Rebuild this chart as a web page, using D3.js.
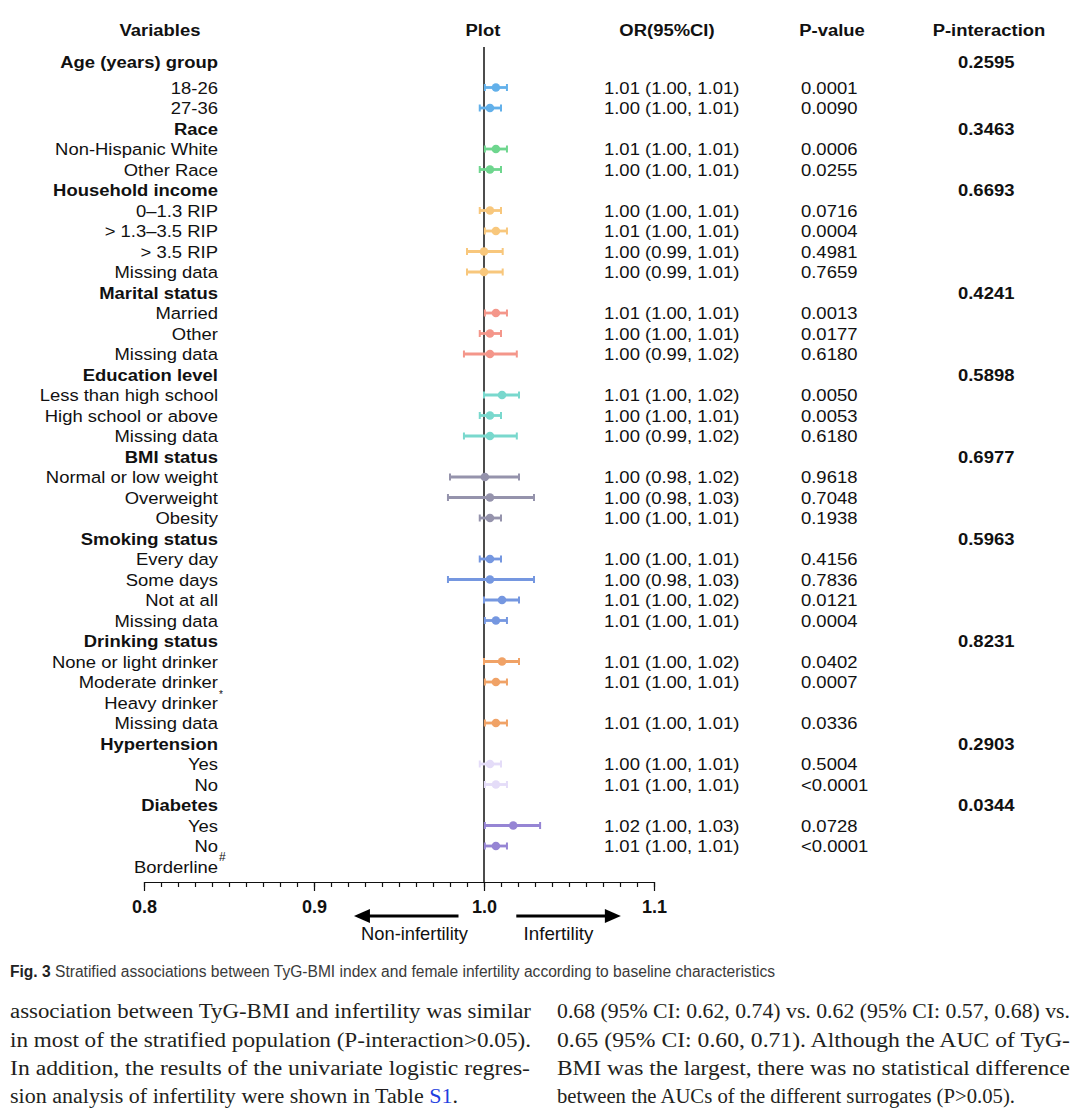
<!DOCTYPE html>
<html>
<head>
<meta charset="utf-8">
<script src="https://cdn.jsdelivr.net/npm/d3@7"></script>
<style>
  html, body { margin: 0; padding: 0; background: #ffffff; }
  svg { display: block; }
</style>
</head>
<body>
<svg id="chart" width="1080" height="1113"></svg>
<script>
// ---------------- DATA ----------------
const groupNames = ["Age (years) group", "Race", "Household income", "Marital status", "Education level",
  "BMI status", "Smoking status", "Drinking status", "Hypertension", "Diabetes"];
const pInteraction = ["0.2595", "0.3463", "0.6693", "0.4241", "0.5898", "0.6977", "0.5963", "0.8231", "0.2903", "0.0344"];

const subgroupLabels = ["18-26", "27-36", "Non-Hispanic White", "Other Race",
  "0\u20131.3 RIP", "> 1.3\u20133.5 RIP", "> 3.5 RIP", "Missing data",
  "Married", "Other", "Missing data",
  "Less than high school", "High school or above", "Missing data",
  "Normal or low weight", "Overweight", "Obesity",
  "Every day", "Some days", "Not at all", "Missing data",
  "None or light drinker", "Moderate drinker", "Heavy drinker", "Missing data",
  "Yes", "No", "Yes", "No", "Borderline"];
const subgroupGroup = [0, 0, 1, 1, 2, 2, 2, 2, 3, 3, 3, 4, 4, 4, 5, 5, 5, 6, 6, 6, 6, 7, 7, 7, 7, 8, 8, 9, 9, 9];
const subgroupNote = ["", "", "", "", "", "", "", "", "", "", "", "", "", "", "", "", "", "", "", "", "", "", "", "*", "", "", "", "", "", "#"];

const orEstimate = [1.007, 1.0035, 1.007, 1.0035, 1.0035, 1.007, 1.000, 1.000, 1.007, 1.0035, 1.0035,
  1.0106, 1.0035, 1.0035, 1.0005, 1.0035, 1.0035, 1.0035, 1.0035, 1.0106, 1.007,
  1.0106, 1.007, null, 1.007, 1.0035, 1.007, 1.0172, 1.007, null];
const ciLower = [1.0005, 0.9975, 1.0005, 0.9975, 0.9975, 1.0005, 0.990, 0.990, 1.0005, 0.9975, 0.9882,
  1.000, 0.9975, 0.9882, 0.980, 0.9788, 0.9975, 0.9975, 0.9788, 1.000, 1.0005,
  1.000, 1.0005, null, 1.0005, 0.9975, 1.0005, 1.0005, 1.0005, null];
const ciUpper = [1.0135, 1.010, 1.0135, 1.010, 1.010, 1.0135, 1.011, 1.011, 1.0135, 1.010, 1.0193,
  1.0206, 1.010, 1.0193, 1.0206, 1.0294, 1.010, 1.010, 1.0294, 1.0206, 1.0135,
  1.0206, 1.0135, null, 1.0135, 1.010, 1.0135, 1.033, 1.0135, null];

const orText = ["1.01 (1.00, 1.01)", "1.00 (1.00, 1.01)", "1.01 (1.00, 1.01)", "1.00 (1.00, 1.01)",
  "1.00 (1.00, 1.01)", "1.01 (1.00, 1.01)", "1.00 (0.99, 1.01)", "1.00 (0.99, 1.01)",
  "1.01 (1.00, 1.01)", "1.00 (1.00, 1.01)", "1.00 (0.99, 1.02)",
  "1.01 (1.00, 1.02)", "1.00 (1.00, 1.01)", "1.00 (0.99, 1.02)",
  "1.00 (0.98, 1.02)", "1.00 (0.98, 1.03)", "1.00 (1.00, 1.01)",
  "1.00 (1.00, 1.01)", "1.00 (0.98, 1.03)", "1.01 (1.00, 1.02)", "1.01 (1.00, 1.01)",
  "1.01 (1.00, 1.02)", "1.01 (1.00, 1.01)", "", "1.01 (1.00, 1.01)",
  "1.00 (1.00, 1.01)", "1.01 (1.00, 1.01)", "1.02 (1.00, 1.03)", "1.01 (1.00, 1.01)", ""];
const pValues = ["0.0001", "0.0090", "0.0006", "0.0255", "0.0716", "0.0004", "0.4981", "0.7659",
  "0.0013", "0.0177", "0.6180", "0.0050", "0.0053", "0.6180", "0.9618", "0.7048", "0.1938",
  "0.4156", "0.7836", "0.0121", "0.0004", "0.0402", "0.0007", "", "0.0336",
  "0.5004", "<0.0001", "0.0728", "<0.0001", ""];

const axisMajorTicks = [0.8, 0.9, 1.0, 1.1];
const headers = ["Variables", "Plot", "OR(95%CI)", "P-value", "P-interaction"];
const directionLabels = ["Non-infertility", "Infertility"];
const captionBold = "Fig. 3";
const captionText = " Stratified associations between TyG-BMI index and female infertility according to baseline characteristics";
const bodyLeft = ["association between TyG-BMI and infertility was similar",
  "in most of the stratified population (P-interaction>0.05).",
  "In addition, the results of the univariate logistic regres-",
  "sion analysis of infertility were shown in Table "];
const bodyRight = ["0.68 (95% CI: 0.62, 0.74) vs. 0.62 (95% CI: 0.57, 0.68) vs.",
  "0.65 (95% CI: 0.60, 0.71). Although the AUC of TyG-",
  "BMI was the largest, there was no statistical difference",
  "between the AUCs of the different surrogates (P>0.05)."];

// ---------------- STYLE ----------------
const groupColors = ["#62b0ea", "#6ed68e", "#f8c77c", "#f4968a", "#79d8cd", "#9593ac", "#7597e0", "#f0a266", "#e4dcf8", "#9685d4"];
const FONT = "'Liberation Sans', Arial, sans-serif";
const STRETCH = 1.06;
const FS = 17.4;

// ---------------- BUILD ROWS ----------------
const rows = [];
groupNames.forEach((g, gi) => {
  rows.push({ type: "header", label: g, pint: pInteraction[gi], group: gi });
  subgroupLabels.forEach((s, si) => {
    if (subgroupGroup[si] === gi) {
      rows.push({ type: "sub", label: s, note: subgroupNote[si], group: gi,
        or: orEstimate[si], lo: ciLower[si], hi: ciUpper[si], ortext: orText[si], p: pValues[si] });
    }
  });
});
rows.forEach((r, i) => r.index = i);

const svg = d3.select("#chart");
const x = d3.scaleLinear().domain([0.8, 1.1]).range([144, 654]);
const yBase = d3.scaleLinear().domain([1, rows.length - 2]).range([87.5, 846]);
const y = i => i === 0 ? yBase(0) - 5.5 : yBase(i);

// helper: horizontally stretched text with given anchor
function stretchText(sel, anchor, k) {
  sel.each(function () {
    const t = d3.select(this);
    t.attr("text-anchor", "start");
    const L = this.getComputedTextLength();
    const W = L * k;
    const x0 = +t.attr("x");
    let xs = x0;
    if (anchor === "end") xs = x0 - W;
    else if (anchor === "middle") xs = x0 - W / 2;
    t.attr("x", xs).attr("textLength", W).attr("lengthAdjust", "spacingAndGlyphs");
  });
}

// ---------------- HEADERS ----------------
const headerX = [160, 483, 667, 832, 989];
svg.append("g").selectAll("text").data(headers).join("text")
  .attr("x", (d, i) => headerX[i]).attr("y", 30).attr("dy", "0.35em")
  .attr("font-family", FONT).attr("font-weight", "bold").attr("font-size", FS).attr("fill", "#111")
  .text(d => d)
  .call(stretchText, "middle", STRETCH);

// ---------------- LEFT LABELS ----------------
const labelG = svg.append("g");
labelG.selectAll("text").data(rows).join("text")
  .attr("x", 218).attr("y", d => y(d.index)).attr("dy", "0.35em")
  .attr("font-family", FONT).attr("font-size", FS)
  .attr("font-weight", d => d.type === "header" ? "bold" : "normal")
  .attr("fill", "#111")
  .text(d => d.label)
  .call(stretchText, "end", STRETCH);

labelG.selectAll("text.note").data(rows.filter(d => d.note)).join("text")
  .attr("class", "note")
  .attr("x", 219).attr("y", d => d.note === "*" ? y(d.index) - 5 : y(d.index) - 6)
  .attr("font-family", FONT).attr("font-size", d => d.note === "#" ? 12 : 10).attr("fill", "#111")
  .text(d => d.note);

// ---------------- OR TEXT, P VALUES, P-INTERACTION ----------------
const subRows = rows.filter(d => d.type === "sub");
svg.append("g").selectAll("text").data(subRows.filter(d => d.ortext)).join("text")
  .attr("x", 604).attr("y", d => y(d.index)).attr("dy", "0.35em")
  .attr("font-family", FONT).attr("font-size", FS).attr("fill", "#111")
  .text(d => d.ortext)
  .call(stretchText, "start", STRETCH);

svg.append("g").selectAll("text").data(subRows.filter(d => d.p)).join("text")
  .attr("x", 801).attr("y", d => y(d.index)).attr("dy", "0.35em")
  .attr("font-family", FONT).attr("font-size", FS).attr("fill", "#111")
  .text(d => d.p)
  .call(stretchText, "start", STRETCH);

svg.append("g").selectAll("text").data(rows.filter(d => d.type === "header")).join("text")
  .attr("x", 958).attr("y", d => y(d.index)).attr("dy", "0.35em")
  .attr("font-family", FONT).attr("font-weight", "bold").attr("font-size", FS).attr("fill", "#111")
  .text(d => d.pint)
  .call(stretchText, "start", STRETCH);

// ---------------- REFERENCE LINE ----------------
const axisY = 882;
svg.append("line")
  .attr("x1", x(1.0)).attr("x2", x(1.0)).attr("y1", 47).attr("y2", axisY)
  .attr("stroke", "#111").attr("stroke-width", 1.5);

// ---------------- ERROR BARS ----------------
const markRows = subRows.filter(d => d.or != null);
const eg = svg.append("g").selectAll("g").data(markRows).join("g")
  .attr("stroke", d => groupColors[d.group]).attr("fill", d => groupColors[d.group]);
eg.append("line")
  .attr("x1", d => x(d.lo)).attr("x2", d => x(d.hi))
  .attr("y1", d => y(d.index)).attr("y2", d => y(d.index))
  .attr("stroke-width", 2.8);
eg.append("line")
  .attr("x1", d => x(d.lo)).attr("x2", d => x(d.lo))
  .attr("y1", d => y(d.index) - 3.5).attr("y2", d => y(d.index) + 3.5)
  .attr("stroke-width", 2);
eg.append("line")
  .attr("x1", d => x(d.hi)).attr("x2", d => x(d.hi))
  .attr("y1", d => y(d.index) - 3.5).attr("y2", d => y(d.index) + 3.5)
  .attr("stroke-width", 2);
eg.append("circle")
  .attr("cx", d => x(d.or)).attr("cy", d => y(d.index)).attr("r", 4.3)
  .attr("stroke", "none");

// ---------------- AXIS ----------------
const minorTicks = d3.range(0, 31).map(i => +(0.8 + i * 0.01).toFixed(2));
const axG = svg.append("g").attr("transform", `translate(0,${axisY})`);
axG.call(d3.axisBottom(x).tickValues(minorTicks).tickSize(5).tickSizeOuter(0).tickFormat(""));
const majG = svg.append("g").attr("transform", `translate(0,${axisY})`);
majG.call(d3.axisBottom(x).tickValues(axisMajorTicks).tickSize(9).tickSizeOuter(0).tickPadding(9)
  .tickFormat(d3.format(".1f")));
majG.select(".domain").remove();
svg.selectAll(".domain, .tick line").attr("stroke", "#111").attr("stroke-width", 1.2);
majG.selectAll("text").attr("font-family", FONT).attr("font-weight", "bold").attr("font-size", 18).attr("fill", "#111");

// ---------------- DIRECTION ARROWS ----------------
const arrowY = 916;
function arrow(fromV, toV) {
  const x0 = x(fromV), x1 = x(toV);
  const dir = Math.sign(x1 - x0);
  const headLen = 16, headHalf = 7;
  svg.append("line").attr("x1", x0).attr("x2", x1 - dir * headLen + dir * 1)
    .attr("y1", arrowY).attr("y2", arrowY).attr("stroke", "#000").attr("stroke-width", 3);
  svg.append("path")
    .attr("d", `M${x1},${arrowY} L${x1 - dir * headLen},${arrowY - headHalf} L${x1 - dir * headLen},${arrowY + headHalf} Z`)
    .attr("fill", "#000");
}
arrow(0.985, 0.9235);
arrow(1.019, 1.0805);

svg.append("g").selectAll("text").data(directionLabels).join("text")
  .attr("x", (d, i) => i === 0 ? 414.5 : 558.5).attr("y", 933).attr("dy", "0.35em")
  .attr("font-family", FONT)
  .attr("font-size", 19).attr("fill", "#111")
  .text(d => d)
  .each(function (d, i) {
    const t = d3.select(this);
    const W = i === 0 ? 107 : 70;
    t.attr("text-anchor", "start").attr("x", +t.attr("x") - W / 2)
      .attr("textLength", W).attr("lengthAdjust", "spacingAndGlyphs");
  });

// ---------------- CAPTION ----------------
const cap = svg.append("text").attr("x", 10).attr("y", 977)
  .attr("font-family", "'Liberation Sans', 'Open Sans', sans-serif")
  .attr("font-size", 16).attr("fill", "#3a3a3a")
  .attr("textLength", 765).attr("lengthAdjust", "spacingAndGlyphs");
cap.append("tspan").attr("font-weight", "bold").attr("fill", "#222").text(captionBold);
cap.append("tspan").text(captionText);

// ---------------- BODY TEXT ----------------
const serif = "'Liberation Serif', 'DejaVu Serif', serif";
const bodyY = [1018, 1047, 1075, 1103];
const leftW = [521, 521, 520, 0];
const rightW = [513, 513, 513, 458];
svg.append("g").selectAll("text").data(bodyLeft).join("text")
  .attr("x", 10).attr("y", (d, i) => bodyY[i])
  .attr("font-family", serif).attr("font-size", 20).attr("fill", "#231f20")
  .each(function (d, i) {
    const t = d3.select(this);
    t.append("tspan").text(d);
    if (i === 3) {
      t.append("tspan").attr("fill", "#1f3fe0").text("S1");
      t.append("tspan").text(".");
      t.attr("textLength", 448).attr("lengthAdjust", "spacingAndGlyphs");
    } else {
      t.attr("textLength", leftW[i]).attr("lengthAdjust", "spacingAndGlyphs");
    }
  });
svg.append("g").selectAll("text").data(bodyRight).join("text")
  .attr("x", 557).attr("y", (d, i) => bodyY[i])
  .attr("font-family", serif).attr("font-size", 20).attr("fill", "#231f20")
  .attr("textLength", (d, i) => rightW[i]).attr("lengthAdjust", "spacingAndGlyphs")
  .text(d => d);
</script>
</body>
</html>
